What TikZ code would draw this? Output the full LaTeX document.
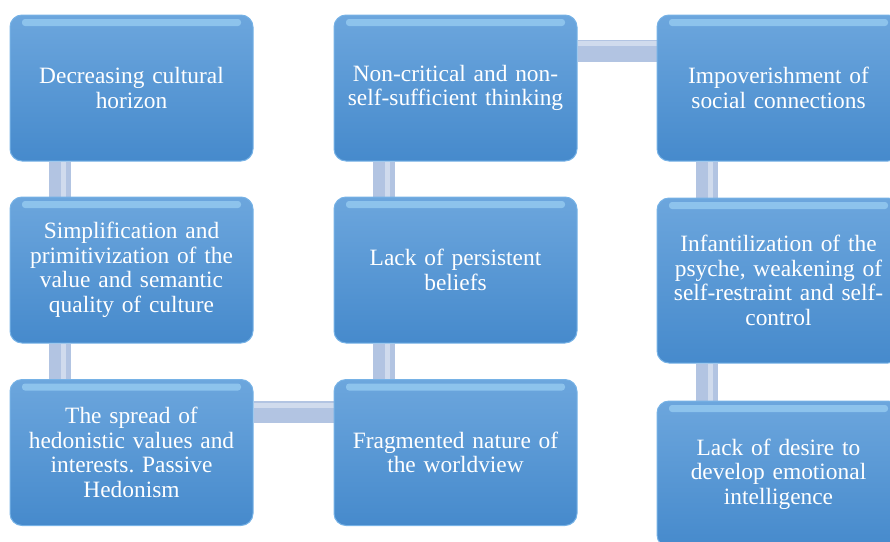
\documentclass[tikz,border=0pt]{standalone}
\usepackage{fontspec}
\setmainfont{Liberation Serif}
\usetikzlibrary{backgrounds}
\frenchspacing
\definecolor{boxtop}{RGB}{108,166,221}
\definecolor{boxbottom}{RGB}{70,138,204}
\definecolor{boxedge}{RGB}{118,178,230}
\definecolor{hilite}{RGB}{160,212,246}
\definecolor{linkblue}{RGB}{178,196,226}
\tikzset{
stepbox/.style={
		draw=boxedge,
		line width=1pt,
		rounded corners=12pt,
		top color=boxtop,
		bottom color=boxbottom,
		minimum width=243pt,
		minimum height=146pt,
		text width=236pt,
		inner sep=0pt,
		align=center,
		text=white,
		font=\fontsize{23.4}{24.5}\selectfont,
		path picture={
			\fill[hilite,opacity=.65,rounded corners=3pt] ([xshift=12pt,yshift=-4pt]path picture bounding box.north west) rectangle ([xshift=-12pt,yshift=-11pt]path picture bounding box.north east);
		}
	},
link/.style={
		line width=22pt,
		draw=linkblue
	},
shine/.style={
		line width=5pt,
		draw=white,
		opacity=.4
	}
}

\begin{document}
\begin{tikzpicture}[x=1pt,y=-1pt]
			\useasboundingbox (0,0) rectangle (890,541);
			% first column
			\node[stepbox] (horizon) at (131.5,88) {Decreasing cultural\\horizon};
			\node[stepbox] (simplify) at (131.5,270) {Simplification and\\primitivization of the\\value and semantic\\quality of culture};
			\node[stepbox] (hedonism) at (131.5,452.5) {The spread of\\hedonistic values and\\interests. Passive\\Hedonism};
			% second column
			\node[stepbox] (thinking) at (455.5,88) {Non-critical and non-\\self-sufficient thinking};
			\node[stepbox] (beliefs) at (455.5,270) {Lack of persistent\\beliefs};
			\node[stepbox] (worldview) at (455.5,452.5) {Fragmented nature of\\the worldview};
			% third column
			\node[stepbox] (connections) at (778.5,88) {Impoverishment of\\social connections};
			\node[stepbox,minimum height=165pt] (psyche) at (778.5,280.5) {Infantilization of the\\psyche, weakening of\\self-restraint and self-\\control};
			\node[stepbox] (emotion) at (778.5,474) {Lack of desire to\\develop emotional\\intelligence};
			% connectors
			\begin{scope}[on background layer]
			\foreach \a/\b in {horizon/simplify,simplify/hedonism,thinking/beliefs,beliefs/worldview,connections/psyche,psyche/emotion}{
				\draw[link] ([xshift=50pt]\a.south west) -- ([xshift=50pt]\b.north west);
				\draw[shine] ([xshift=54pt]\a.south west) -- ([xshift=54pt]\b.north west);
			}
			\draw[link] ([yshift=-33pt]hedonism.north east) -- ([yshift=-33pt]worldview.north west);
			\draw[shine] ([yshift=-26pt]hedonism.north east) -- ([yshift=-26pt]worldview.north west);
			\draw[link] ([yshift=-36pt]thinking.north east) -- ([yshift=-36pt]connections.north west);
			\draw[shine] ([yshift=-29pt]thinking.north east) -- ([yshift=-29pt]connections.north west);
			\end{scope}
			\end{tikzpicture}
\end{document}
